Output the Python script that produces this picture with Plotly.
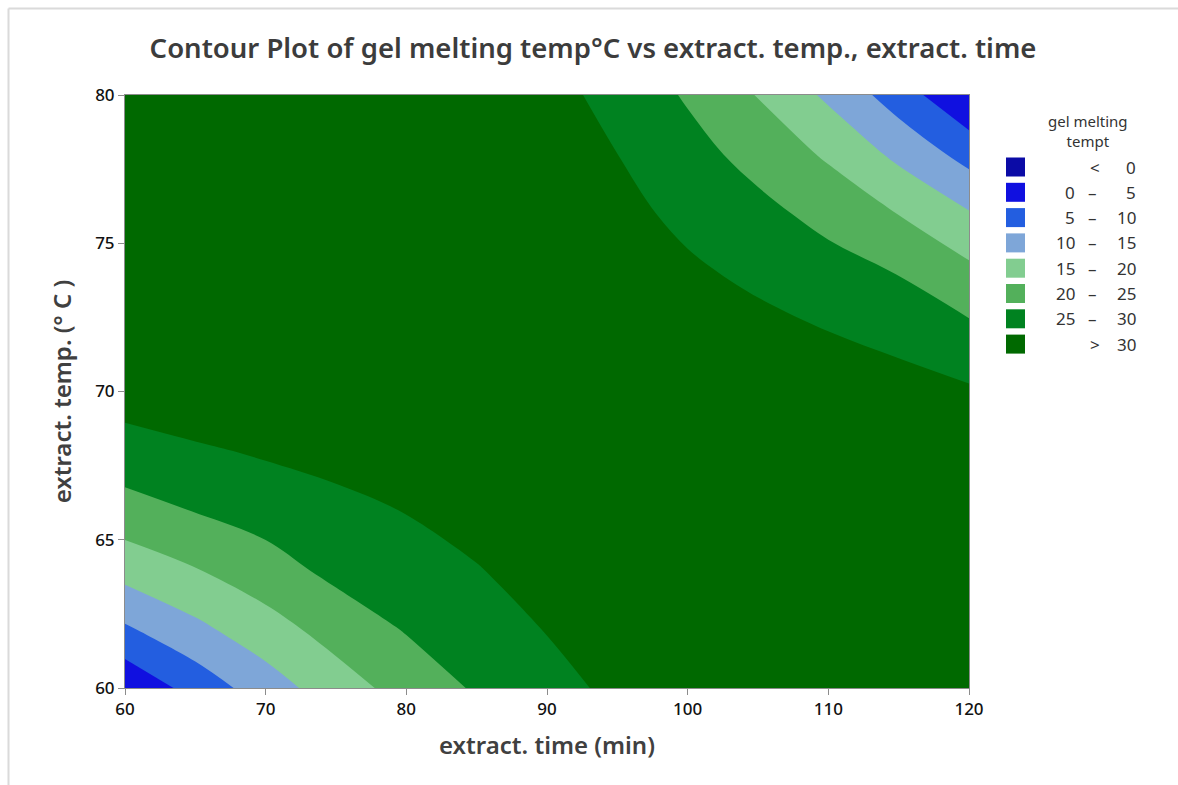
import plotly.graph_objects as go

# ---- data ----
extract_time = [60, 65, 70, 75, 80, 85, 90, 95, 100, 105, 110, 115, 120]
extract_temp = [60, 62, 64, 66, 68, 70, 72, 74, 76, 78, 80]

# gel melting temp (rows follow extract_temp, columns follow extract_time)
gel_melting_temp = [
    [0.8, 6.9, 12.6, 17.65, 21.92, 25.57, 28.6, 30.9, 32.4, 33.2, 33.3, 33.5, 34.0],
    [9.36, 13.86, 17.98, 22.03, 25.37, 27.67, 30.2, 32.3, 33.8, 34.6, 34.9, 35.3, 35.8],
    [16.95, 19.82, 22.98, 26.3, 27.78, 29.78, 31.9, 33.6, 34.9, 35.6, 35.9, 36.0, 36.2],
    [23.1, 25.23, 27.05, 28.72, 30.18, 31.8, 33.4, 34.7, 35.6, 36.0, 36.0, 35.6, 35.6],
    [28.02, 29.34, 30.6, 31.6, 32.5, 33.5, 34.6, 35.5, 35.9, 35.3, 35.0, 34.2, 33.7],
    [32.2, 33.5, 34.0, 34.2, 34.3, 34.9, 35.5, 36.0, 34.7, 33.6, 33.2, 32.1, 30.6],
    [34.4, 35.5, 36.0, 36.0, 35.8, 35.9, 36.0, 35.3, 33.0, 31.5, 30.05, 28.36, 26.17],
    [35.5, 36.5, 37.0, 37.2, 36.8, 36.3, 36.0, 34.0, 30.85, 28.94, 26.92, 24.83, 21.24],
    [35.3, 36.6, 37.0, 37.4, 37.0, 36.1, 35.4, 31.5, 28.77, 26.36, 23.49, 19.88, 15.37],
    [33.8, 35.8, 36.3, 36.6, 36.3, 35.2, 33.5, 30.02, 26.71, 23.33, 19.29, 13.83, 8.18],
    [31.5, 33.9, 35.1, 35.5, 35.1, 33.7, 31.8, 28.29, 24.48, 19.76, 14.08, 7.54, 0.3],
]

levels = [0, 5, 10, 15, 20, 25, 30]
band_colors = ["#0B0BA6", "#1010E0", "#235EE0", "#7EA6D8",
               "#82CD90", "#53B05B", "#008220", "#006900"]

x_ticks = [60, 70, 80, 90, 100, 110, 120]
y_ticks = [60, 65, 70, 75, 80]

# ---- geometry helpers (pixel -> paper) ----
W, H = 1178, 785
PL, PR, PT, PB = 125, 969, 95, 688


def px_x(px):
    return (px - PL) / (PR - PL)


def px_y(py):
    return (PB - py) / (PB - PT)


FONT = "Noto Sans"
n = len(band_colors)
colorscale = [[i / (n - 1), c] for i, c in enumerate(band_colors)]

fig = go.Figure()
fig.add_trace(go.Contour(
    x=extract_time, y=extract_temp, z=gel_melting_temp,
    contours=dict(start=levels[0], end=levels[-1],
                  size=levels[1] - levels[0], coloring="fill"),
    colorscale=colorscale, showscale=False,
    line=dict(width=0, smoothing=1),
    hovertemplate="time %{x}<br>temp %{y}<br>gel %{z}<extra></extra>",
))

shapes = []
annotations = []

# frame lines of the graph window
shapes.append(dict(type="line", xref="paper", yref="paper",
                   x0=px_x(8.5), x1=px_x(8.5), y0=px_y(785), y1=px_y(8.5),
                   line=dict(color="#DADADA", width=2)))
shapes.append(dict(type="line", xref="paper", yref="paper",
                   x0=px_x(8.5), x1=px_x(1178), y0=px_y(8.5), y1=px_y(8.5),
                   line=dict(color="#DADADA", width=2)))

# custom legend
annotations.append(dict(text="gel melting<br>tempt", xref="paper", yref="paper",
                        x=px_x(1088), y=px_y(131), xanchor="center", yanchor="middle",
                        showarrow=False, align="center",
                        font=dict(family=FONT, size=15, color="#333333")))
row0, step = 167, 25.3
for i, col in enumerate(band_colors):
    cy = row0 + step * i
    shapes.append(dict(type="rect", xref="paper", yref="paper",
                       x0=px_x(1006), x1=px_x(1025), y0=px_y(cy + 9.5), y1=px_y(cy - 9.5),
                       fillcolor=col, line=dict(width=0)))
    tf = dict(family=FONT, size=17, color="#333333")
    if i == 0:
        parts = [("<", 1095, "center"), (str(levels[0]), 1138, "right")]
    elif i == n - 1:
        parts = [(">", 1095, "center"), (str(levels[-1]), 1138, "right")]
    else:
        parts = [(str(levels[i - 1]), 1077, "right"), ("–", 1092, "center"),
                 (str(levels[i]), 1138, "right")]
    for txt, xx, anc in parts:
        annotations.append(dict(text=txt, xref="paper", yref="paper",
                                x=px_x(xx), y=px_y(cy), xanchor=anc, yanchor="middle",
                                showarrow=False, font=tf))

axis_common = dict(showgrid=False, zeroline=False, showline=True, mirror=True,
                   linecolor="#8C8C8C", linewidth=1, ticks="outside", ticklen=6,
                   tickcolor="#8C8C8C",
                   tickfont=dict(family=FONT, size=17, color="#111111", weight=500))

fig.update_layout(
    width=W, height=H,
    margin=dict(l=PL, r=W - PR, t=PT, b=H - PB),
    paper_bgcolor="white", plot_bgcolor="white",
    title=dict(text="Contour Plot of gel melting temp°C vs extract. temp., extract. time",
               x=593 / W, xref="container", xanchor="center",
               y=1 - 48 / H, yref="container", yanchor="middle",
               font=dict(family=FONT, size=27.5, color="#3C3C3C", weight=600)),
    xaxis=dict(range=[extract_time[0], extract_time[-1]], tickvals=x_ticks,
               title=dict(text="extract. time (min)", standoff=17,
                          font=dict(family=FONT, size=24, color="#404040", weight=600)),
               **axis_common),
    yaxis=dict(range=[extract_temp[0], extract_temp[-1]], tickvals=y_ticks,
               title=dict(text="extract. temp. (° C )", standoff=16,
                          font=dict(family=FONT, size=24, color="#404040", weight=600)),
               **axis_common),
    shapes=shapes,
    annotations=annotations,
    showlegend=False,
)

fig.write_html("out.html")
